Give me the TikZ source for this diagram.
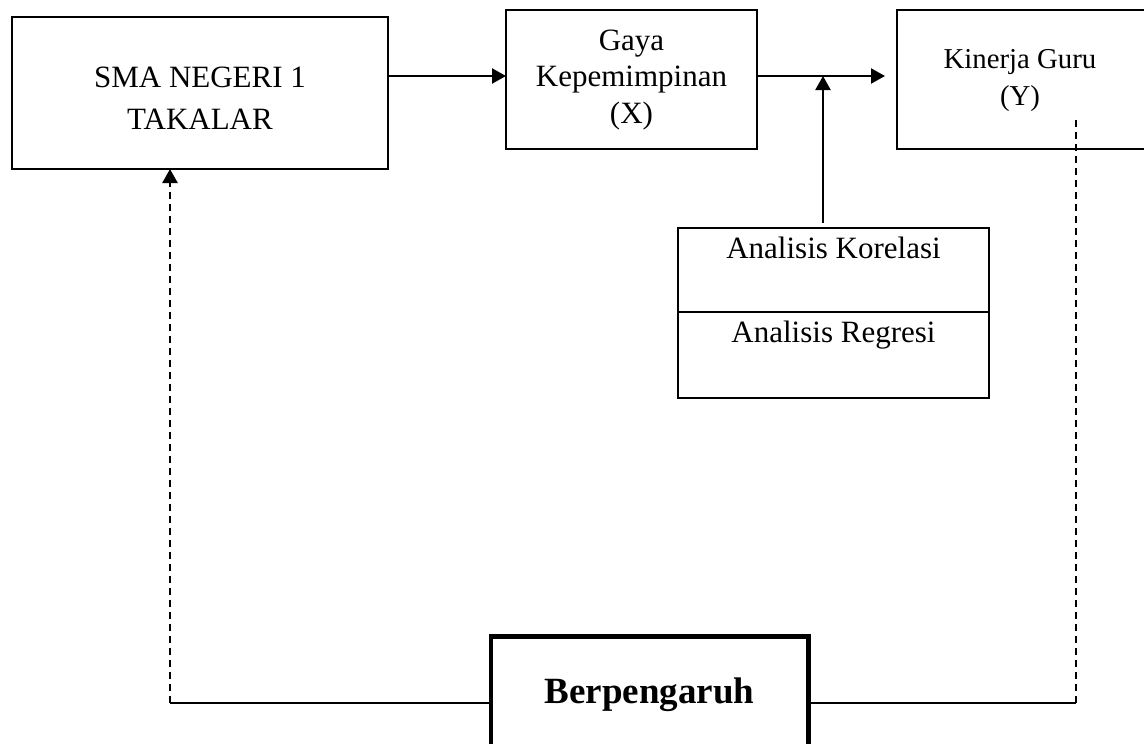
\documentclass[tikz,border=0pt]{standalone}
\usepackage{fontspec}
\setmainfont{Liberation Serif}
\usetikzlibrary{arrows.meta,calc}
\begin{document}
\begin{tikzpicture}[x=1pt,y=-1pt,
  box/.style={draw,line width=2pt,inner sep=0pt,outer sep=0pt},
  abox/.style={draw,line width=1.4pt,inner sep=0pt,outer sep=0pt},
  thickbox/.style={draw,line width=4.5pt,inner sep=0pt,outer sep=0pt},
  txt/.style={anchor=base,inner sep=0pt,font=\fontsize{31}{37}\selectfont},
  stxt/.style={anchor=base,inner sep=0pt,font=\fontsize{28.8}{35}\selectfont},
  btxt/.style={anchor=base,inner sep=0pt,font=\fontsize{37}{44}\selectfont\bfseries},
  tip/.style={-{Triangle[length=14pt,width=15pt]}},
  arr/.style={line width=2.2pt,tip},
  conn/.style={line width=2.2pt},
  dashline/.style={line width=2.6pt,dash pattern=on 7pt off 5pt}
]
\useasboundingbox (0,0) rectangle (1144,744);
\clip (0,0) rectangle (1144,744);

% boxes
\node[box,minimum width=376pt,minimum height=152pt] (sma) at (200,93) {};
\node[box,minimum width=251pt,minimum height=139pt] (gaya) at (631.5,79.5) {};
\node[box,minimum width=248pt,minimum height=139pt] (kin) at (1021,79.5) {};
\node[abox,minimum width=311pt,minimum height=170pt] (ana) at (833.5,313) {};
\node[thickbox,minimum width=317.5pt,minimum height=133pt] (berp) at (649.75,703) {};

% texts
\node[txt] (t1) at (200,87) {SMA NEGERI 1};
\node[txt] (t2) at (200,129) {TAKALAR};
\node[txt] (t3) at (631.5,50) {Gaya};
\node[txt] (t4) at (631.5,86) {Kepemimpinan};
\node[txt] (t5) at (631.5,123) {(X)};
\node[stxt] (t6) at (1020,68) {Kinerja Guru};
\node[stxt] (t7) at (1020,105) {(Y)};
\node[txt] (t8) at (833.5,258) {Analisis Korelasi};
\node[txt] (t9) at (833.5,342) {Analisis Regresi};
\node[btxt] (t10) at (649.5,703) {Berpengaruh};

% divider in analysis box
\coordinate (div) at (0,312);
\draw[line width=1.4pt] (ana.west |- div) -- (ana.east |- div);

% coordinates
\coordinate (jn) at (823,76);
\coordinate (kinin) at (885,76);
\coordinate (anatop) at (823,223);
\coordinate (lc) at (170,703);
\coordinate (rc) at (1076,703);
\coordinate (rtop) at (1076,120);

% connectors
\draw[arr] (sma.east |- jn) -- (gaya.west |- jn);
\draw[arr] (gaya.east |- jn) -- (kinin);
\draw[arr] (anatop) -- (jn);
\draw[dashline,tip] (lc) -- (sma.south -| lc);
\draw[conn] (lc) -- (berp.west |- lc);
\draw[conn] (berp.east |- lc) -- (rc);
\draw[dashline] (rc) -- (rtop);
\end{tikzpicture}
\end{document}
